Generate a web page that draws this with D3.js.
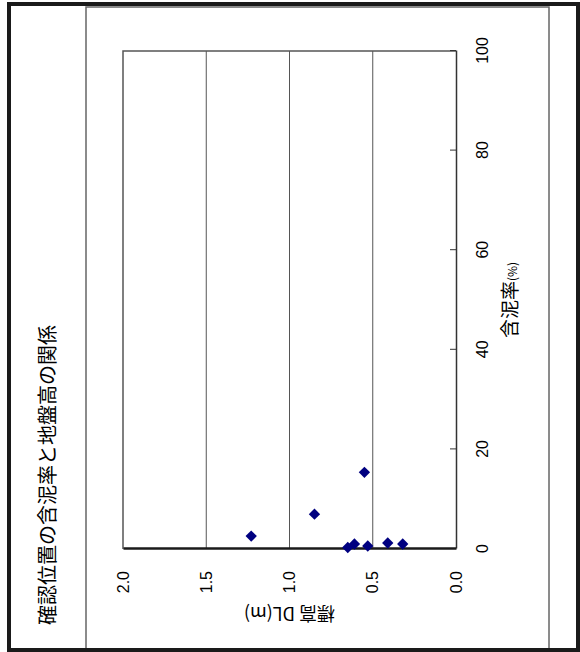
<!DOCTYPE html>
<html><head><meta charset="utf-8">
<script src="https://cdn.jsdelivr.net/npm/d3@7/dist/d3.min.js"></script>
<style>
html,body{margin:0;padding:0;background:#fff;}
svg{display:block;}
text{font-family:"Liberation Sans",Arial,"Noto Sans CJK JP",sans-serif;fill:#000;}
.cjk{font-family:"Noto Sans CJK JP","Liberation Sans",sans-serif;}
</style>
</head><body>
<svg id="c" width="580" height="652"></svg>
<script>
// ---- data ----
const titleText = "確認位置の含泥率と地盤高の関係";
const xTitle = "含泥率";
const xTitleUnit = "(%)";
const yTitle = "標高 DL(m)";
const mudPct   = [2.6, 7.0, 15.4, 0.3, 1.0, 0.6, 1.2, 1.0];
const groundDL = [1.23, 0.85, 0.55, 0.65, 0.61, 0.53, 0.41, 0.32];
const mudTicks = [0, 20, 40, 60, 80, 100];
const dlTicks  = [0.0, 0.5, 1.0, 1.5, 2.0];
const dlTickLabels = ["0.0", "0.5", "1.0", "1.5", "2.0"];

const svg = d3.select("#c");

// outer frames (page coordinates)
svg.append("rect").attr("x", 0).attr("y", 0).attr("width", 580).attr("height", 652).attr("fill", "#fff");
svg.append("rect").attr("x", 86).attr("y", 7).attr("width", 463).attr("height", 644)
  .attr("fill", "none").attr("stroke", "#666").attr("stroke-width", 1.5);
svg.append("path").attr("d", "M9,652 V4 H578 V650 H9")
  .attr("fill", "none").attr("stroke", "#1a1a1a").attr("stroke-width", 4);

// chart drawn in its own (unrotated) frame, then rotated -90deg
const W = 498, H = 333;
const g = svg.append("g").attr("transform", "translate(123,549) rotate(-90)");

const x = d3.scaleLinear().domain([0, 100]).range([0, W]);
const y = d3.scaleLinear().domain([0, 2]).range([H, 0]);

// gridlines
g.append("g").selectAll("line").data(dlTicks.filter(d => d > 0 && d < 2)).join("line")
  .attr("x1", 0).attr("x2", W).attr("y1", d => y(d)).attr("y2", d => y(d))
  .attr("stroke", "#555").attr("stroke-width", 1);

// plot border (top and right)
g.append("path").attr("d", `M0,${y(2)} H${W} V${H}`).attr("fill", "none")
  .attr("stroke", "#555").attr("stroke-width", 1.5);

// x axis (含泥率) at bottom, ticks inward
const xAxis = d3.axisBottom(x).tickValues(mudTicks).tickFormat(d3.format("d"))
  .tickSizeInner(-6).tickSizeOuter(0).tickPadding(21);
const gx = g.append("g").attr("transform", `translate(0,${H})`).call(xAxis);
gx.attr("font-family", null).attr("font-size", null);
gx.select(".domain").attr("stroke", "#333").attr("stroke-width", 1.5);
gx.selectAll(".tick line").attr("stroke", "#333");
gx.selectAll("text").style("font-size", "16px").attr("fill", "#000");

// y axis (DL) at left
const yAxis = d3.axisLeft(y).tickValues(dlTicks).tickFormat((d, i) => dlTickLabels[i])
  .tickSizeInner(0).tickSizeOuter(0).tickPadding(22);
const gy = g.append("g").call(yAxis);
gy.attr("font-family", null).attr("font-size", null);
gy.select(".domain").attr("stroke", "#1a1a1a").attr("stroke-width", 2.5);
gy.selectAll("text").style("font-size", "16px").attr("fill", "#000");

// points (diamond markers)
const sym = d3.symbol().type(d3.symbolSquare).size(64);
g.append("g").selectAll("path").data(mudPct.map((m, i) => [m, groundDL[i]])).join("path")
  .attr("d", sym)
  .attr("transform", d => `translate(${x(d[0])},${y(d[1])}) rotate(45)`)
  .attr("fill", "#000080");

// titles
g.append("text").attr("class", "cjk").attr("x", 74).attr("y", -75).attr("dy", "0.35em")
  .attr("text-anchor", "middle").style("font-size", "20px").text(titleText);

const xt = g.append("text").attr("class", "cjk").attr("x", W / 2).attr("y", 387).attr("dy", "0.35em")
  .attr("text-anchor", "middle").style("font-size", "19px");
xt.append("tspan").text(xTitle);
xt.append("tspan").style("font-size", "12px").text(xTitleUnit);

g.append("text").attr("class", "cjk")
  .attr("transform", `translate(-64,${H / 2}) rotate(-90)`).attr("dy", "0.35em")
  .attr("text-anchor", "middle").style("font-size", "18px").text(yTitle);
</script>
</body></html>
